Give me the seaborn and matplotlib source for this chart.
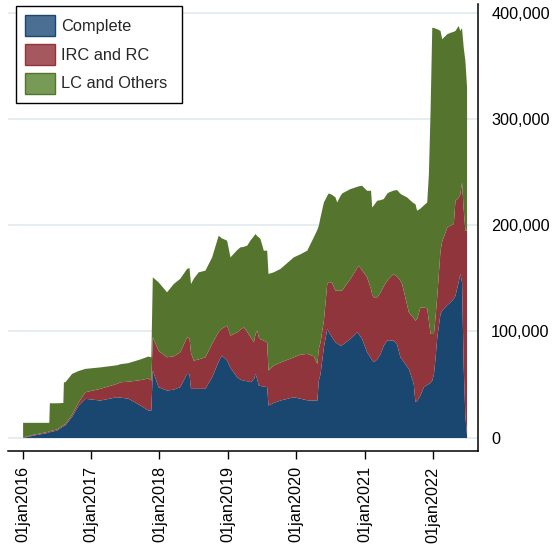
import numpy as np
import pandas as pd
import matplotlib
matplotlib.use("Agg")
import matplotlib.pyplot as plt
import matplotlib.dates as mdates
from matplotlib.patches import Patch
from matplotlib.ticker import FuncFormatter
import seaborn as sns

# Dates of the observations
dates = [
    "2016-01-01", "2016-02-25", "2016-05-20", "2016-05-23", "2016-06-30", "2016-08-03",
    "2016-08-06", "2016-08-14", "2016-09-19", "2016-10-22", "2016-11-29",
    "2017-02-17", "2017-05-17", "2017-06-04", "2017-07-16", "2017-09-19", "2017-10-31",
    "2017-11-16", "2017-11-24", "2017-12-25",
    "2018-02-08", "2018-03-16", "2018-04-20", "2018-05-26", "2018-06-08", "2018-06-16",
    "2018-07-01", "2018-07-27", "2018-09-01", "2018-10-07", "2018-11-11", "2018-11-28",
    "2018-12-26",
    "2019-01-13", "2019-02-18", "2019-03-07", "2019-03-25", "2019-04-12", "2019-04-30",
    "2019-05-18", "2019-05-27", "2019-06-05", "2019-06-13", "2019-06-22", "2019-07-10",
    "2019-07-28", "2019-08-04", "2019-09-01", "2019-10-07", "2019-12-17",
    "2020-01-22", "2020-02-27", "2020-04-02", "2020-04-21", "2020-04-29", "2020-05-08",
    "2020-05-26", "2020-06-13", "2020-06-21", "2020-07-09", "2020-07-27", "2020-08-05",
    "2020-08-23", "2020-09-01", "2020-10-15", "2020-11-20", "2020-11-28", "2020-12-16",
    "2021-01-12", "2021-02-02", "2021-02-08", "2021-02-17", "2021-03-07", "2021-03-25",
    "2021-04-11", "2021-04-29", "2021-05-08", "2021-06-03", "2021-06-21", "2021-07-09",
    "2021-07-18", "2021-08-14", "2021-08-23", "2021-09-18", "2021-09-27", "2021-10-06",
    "2021-10-24", "2021-11-11", "2021-11-29", "2021-12-08", "2021-12-17", "2021-12-26",
    "2022-01-04", "2022-01-13", "2022-01-22", "2022-02-08", "2022-02-17", "2022-03-16",
    "2022-04-02", "2022-04-20", "2022-04-29", "2022-05-16", "2022-05-25", "2022-06-03",
    "2022-06-12", "2022-06-21", "2022-06-30",
]

complete = [
    0, 2300, 5000, 5500, 7000, 11000, 11300, 11800, 20000, 30000, 36900,
    35300, 38400, 38000, 37100, 30600, 26000, 25900, 63500, 47800,
    44700, 45500, 48000, 60400, 60000, 46300, 46300, 46300, 46300, 57200, 72000, 77600, 72900,
    66000, 57200, 55000, 54000, 53500, 52500, 55000, 60400, 55000, 49400, 49000, 48500,
    47800, 30600, 33000, 35300, 38400,
    37000, 35500, 35300, 35000, 54100, 60000, 85400, 102700, 100000, 94800, 90000, 89000,
    87000, 87500, 93300, 99500, 98000, 93300,
    80700, 75000, 73000, 71300, 74000, 79200, 87000, 91700, 92000, 91700, 88000, 76000,
    74000, 67000, 65100, 51000, 33700, 35000, 40000, 47800, 50000, 51000, 52000, 54100,
    60000, 76000, 95000, 116800, 120000, 125000, 127700, 131000, 134100, 146600, 154500,
    146600, 66600, 20000, 2000,
]

irc_rc = [
    500, 700, 1000, 1000, 1000, 1000, 1200, 1200, 2000, 3000, 6200,
    11000, 12600, 14500, 15900, 23900, 30000, 28200, 31300, 34200,
    31300, 31500, 32700, 34400, 34000, 33700, 26600, 27700, 29700, 31400, 28000, 25400, 32900,
    30400, 42300, 47000, 50200, 46500, 42500, 35100, 37600, 46100, 45600, 44000, 43200,
    42200, 32900, 35200, 35700, 37600,
    41500, 43700, 41700, 34800, 29900, 30000, 25100, 42300, 47000, 51200, 48700, 49700,
    51700, 51500, 56500, 60500, 64300, 64700,
    70600, 65000, 62000, 61200, 58500, 57800, 56000, 56300, 58000, 62800, 64000, 72000,
    71000, 58000, 53200, 62000, 76800, 77000, 83000, 75200, 72000, 59000, 46000, 43900,
    38000, 39000, 39100, 59600, 65000, 73000, 72300, 70500, 89300, 79400, 75200,
    94000, 148400, 175200, 193200,
]

lc_others = [
    13800, 11300, 8300, 26200, 24700, 21000, 40000, 39500, 38400, 30000, 22000,
    20200, 17500, 17000, 17500, 19500, 20700, 21900, 56500, 64600,
    61200, 68000, 69300, 64400, 66100, 65000, 77100, 82000, 81600, 81500, 90500, 85000, 80000,
    73700, 77500, 77500, 75800, 81100, 91000, 99900, 94100, 88900, 94000, 94400, 84700,
    86400, 91000, 87800, 88200, 94100,
    94500, 97200, 111900, 126200, 116000, 117700, 111300, 83000, 83300, 83000, 87800, 83100,
    89300, 91300, 84600, 76500, 74700, 79500,
    81500, 92800, 82100, 86500, 90900, 87000, 82000, 82000, 81200, 78500, 81500, 82000,
    84000, 101500, 106700, 108000, 109800, 102000, 93000, 96000, 99800, 138500, 210100, 288400,
    288000, 270500, 250800, 206900, 190500, 182200, 181500, 181000, 159900, 162000, 153600,
    145400, 152600, 159900, 134800,
]

series_labels = ["Complete", "IRC and RC", "LC and Others"]
year_ticks = ["2016-01-01", "2017-01-01", "2018-01-01", "2019-01-01",
              "2020-01-01", "2021-01-01", "2022-01-01"]
value_ticks = [0, 100000, 200000, 300000, 400000]

fill_colors = ["#1a476f", "#90353b", "#55752f"]
key_colors = ["#4a6f93", "#a5585e", "#779a56"]

sns.set_style("white")
plt.rcParams["font.family"] = ["Liberation Sans", "DejaVu Sans"]

df = pd.DataFrame({
    "date": pd.to_datetime(dates),
    series_labels[0]: complete,
    series_labels[1]: irc_rc,
    series_labels[2]: lc_others,
})

fig = plt.figure(figsize=(5.53, 5.46), dpi=100)
ax = fig.add_axes([8 / 553, 95 / 546, 470 / 553, 447 / 546])

ax.stackplot(df["date"], df[series_labels[0]], df[series_labels[1]], df[series_labels[2]],
             colors=fill_colors, linewidth=0, zorder=2)

ax.set_ylim(-12700, 408200)
ax.set_xlim(pd.Timestamp("2015-10-15"), pd.Timestamp("2022-08-30"))

ax.set_yticks(value_ticks)
ax.yaxis.set_major_formatter(FuncFormatter(lambda v, p: f"{v:,.0f}"))
ax.yaxis.tick_right()
ax.yaxis.grid(True, color="#e4ecef", linewidth=1.3, zorder=0)
ax.xaxis.grid(False)
ax.set_axisbelow(True)

ax.set_xticks(pd.to_datetime(year_ticks))
ax.xaxis.set_major_formatter(
    FuncFormatter(lambda v, p: mdates.num2date(v).strftime("%d%b%Y").lower()))
ax.tick_params(axis="x", labelrotation=90, length=6, width=1, pad=5,
               labelsize=11.7, colors="black", bottom=True)
ax.tick_params(axis="y", length=6, width=1, pad=3.5, labelsize=11.7,
               colors="black", right=True, left=False)

sns.despine(ax=ax, left=True, top=True, right=False, bottom=False)
for side in ("right", "bottom"):
    ax.spines[side].set_color("black")
    ax.spines[side].set_linewidth(1.1)

handles = [Patch(facecolor=k, edgecolor=f, linewidth=1.0) for k, f in zip(key_colors, fill_colors)]
leg = ax.legend(handles, series_labels, loc="upper left",
                bbox_to_anchor=(0.017, 0.0, 0.353, 0.9955), mode="expand",
                frameon=True, fancybox=False, framealpha=1, edgecolor="black",
                fontsize=11.8, handlelength=1.8, handleheight=1.6, handletextpad=0.4,
                labelspacing=0.47, borderpad=0.55, borderaxespad=0)
leg.get_frame().set_linewidth(1.0)

fig.savefig("out.png", dpi=100)
